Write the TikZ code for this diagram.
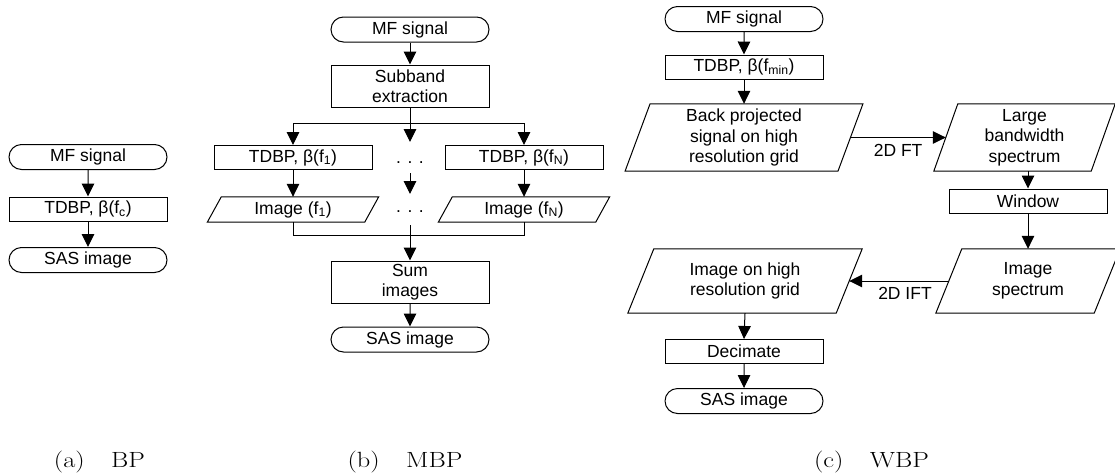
\documentclass[tikz,border=0pt]{standalone}
\usepackage{fontspec}
\usepackage{graphicx}
\newfontfamily\arialf{Liberation Sans}
\usetikzlibrary{arrows.meta,shapes.misc}
\newcommand\drawpara[2]{%
  \draw[boxline] ([xshift=-#2/2]#1.south west) -- ([xshift=#2/2]#1.north west)
    -- ([xshift=#2/2]#1.north east) -- ([xshift=-#2/2]#1.south east) -- cycle;}
\begin{document}
\begin{tikzpicture}[x=1pt,y=-1pt,
  boxline/.style={line width=1pt, draw=black},
  txt/.style={font=\arialf\fontsize{17.5}{20.5}\selectfont, align=center, inner sep=0pt},
  term/.style={txt, rounded rectangle, boxline, minimum width=158, minimum height=25},
  proc/.style={txt, rectangle, boxline, minimum width=158, minimum height=24},
  parabox/.style={txt, rectangle, draw=none},
  arr/.style={line width=1pt, draw=black, -{Triangle[length=13pt,width=12.5pt]}},
  plain/.style={line width=1pt, draw=black},
  lab/.style={font=\arialf\fontsize{17.5}{20.5}\selectfont, inner sep=0pt},
  dotsn/.style={font=\arialf\fontsize{17.5}{20.5}\selectfont, inner sep=0pt, anchor=base},
  capt/.style={font=\fontsize{22}{26}\selectfont, inner sep=0pt, anchor=base}]
\clip (0,0) rectangle (1115,474);
\fill[white] (0,0) rectangle (1115,474);

% ---------- (a) BP ----------
\node[term] (a1) at (88,157) {MF signal};
\node[proc] (a2) at (88,209) {TDBP, β(f\textsubscript{c})};
\node[term] (a3) at (88,260) {SAS image};
\draw[arr] (a1) -- (a2);
\draw[arr] (a2) -- (a3);

% ---------- (b) MBP ----------
\node[term] (b1) at (410,29.5) {MF signal};
\node[proc, minimum height=42] (b2) at (410,86) {Subband\\extraction};
\node[proc] (b3) at (293,157.5) {TDBP, β(f\textsubscript{1})};
\node[proc] (b4) at (524,157.5) {TDBP, β(f\textsubscript{N})};
\node[parabox, minimum width=157, minimum height=25] (b5) at (293,209.5) {Image (f\textsubscript{1})};
\node[parabox, minimum width=157, minimum height=25] (b6) at (524,209.5) {Image (f\textsubscript{N})};
\drawpara{b5}{14}
\drawpara{b6}{14}
\node[dotsn] (d1) at (410,163.5) {. . .};
\node[dotsn] (d2) at (410,212) {. . .};
\node[proc, minimum height=42] (b7) at (410,282) {Sum\\images};
\node[term] (b8) at (410,339.5) {SAS image};
\coordinate (sl) at (293,123);
\coordinate (sr) at (524,123);
\coordinate (m1) at (410,142);
\coordinate (m2a) at (410,173);
\coordinate (m2b) at (410,194);
\coordinate (m3) at (410,225);
\coordinate (jl) at (293,235);
\coordinate (jr) at (524,235);
\draw[arr] (b1) -- (b2);
\draw[arr] (b2.south) -- (m1);
\draw[plain] (sl) -- (sr);
\draw[arr] (sl) -- (b3.north);
\draw[arr] (sr) -- (b4.north);
\draw[arr] (b3) -- (b5);
\draw[arr] (b4) -- (b6);
\draw[arr] (m2a) -- (m2b);
\draw[plain] (b5.south) -- (jl) -- (jr) -- (b6.south);
\draw[arr] (m3) -- (b7.north);
\draw[arr] (b7) -- (b8);

% ---------- (c) WBP ----------
\node[term] (c1) at (744,19) {MF signal};
\node[proc] (c2) at (744,67) {TDBP, β(f\textsubscript{min})};
\node[parabox, minimum width=212.5, minimum height=67] (c3) at (744,137.5) {Back projected\\signal on high\\resolution grid};
\node[parabox, minimum width=157, minimum height=67] (c4) at (1024.5,137.5) {Large\\bandwidth\\spectrum};
\node[proc] (c5) at (1028,201) {Window};
\node[parabox, minimum width=158, minimum height=64] (c6) at (1028,281) {Image\\spectrum};
\node[parabox, minimum width=208, minimum height=64] (c7) at (745,281) {Image on high\\resolution grid};
\node[proc] (c8) at (744,351.5) {Decimate};
\node[term] (c9) at (744,401) {SAS image};
\drawpara{c3}{25}
\drawpara{c4}{24}
\drawpara{c6}{26}
\drawpara{c7}{26}
\draw[arr] (c1) -- (c2);
\draw[arr] (c2) -- (c3.north);
\draw[arr] (c3.east) -- node[lab, below=6pt] {2D FT} (c4.west);
\draw[arr] (c4.south -| c5.north) -- (c5.north);
\draw[arr] (c5) -- (c6.north);
\draw[arr] (c6.west) -- node[lab, below=6pt, pos=0.44] {2D IFT} (c7.east);
\draw[arr] (c7.south) -- (c8.north);
\draw[arr] (c8) -- (c9);

% ---------- captions ----------
\node[capt] (capa) at (99.5,467) {\scalebox{1.2}[1]{(a)\quad BP}};
\node[capt] (capb) at (405,467) {\scalebox{1.2}[1]{(b)\quad MBP}};
\node[capt] (capc) at (871.5,467) {\scalebox{1.2}[1]{(c)\quad WBP}};
\end{tikzpicture}
\end{document}
